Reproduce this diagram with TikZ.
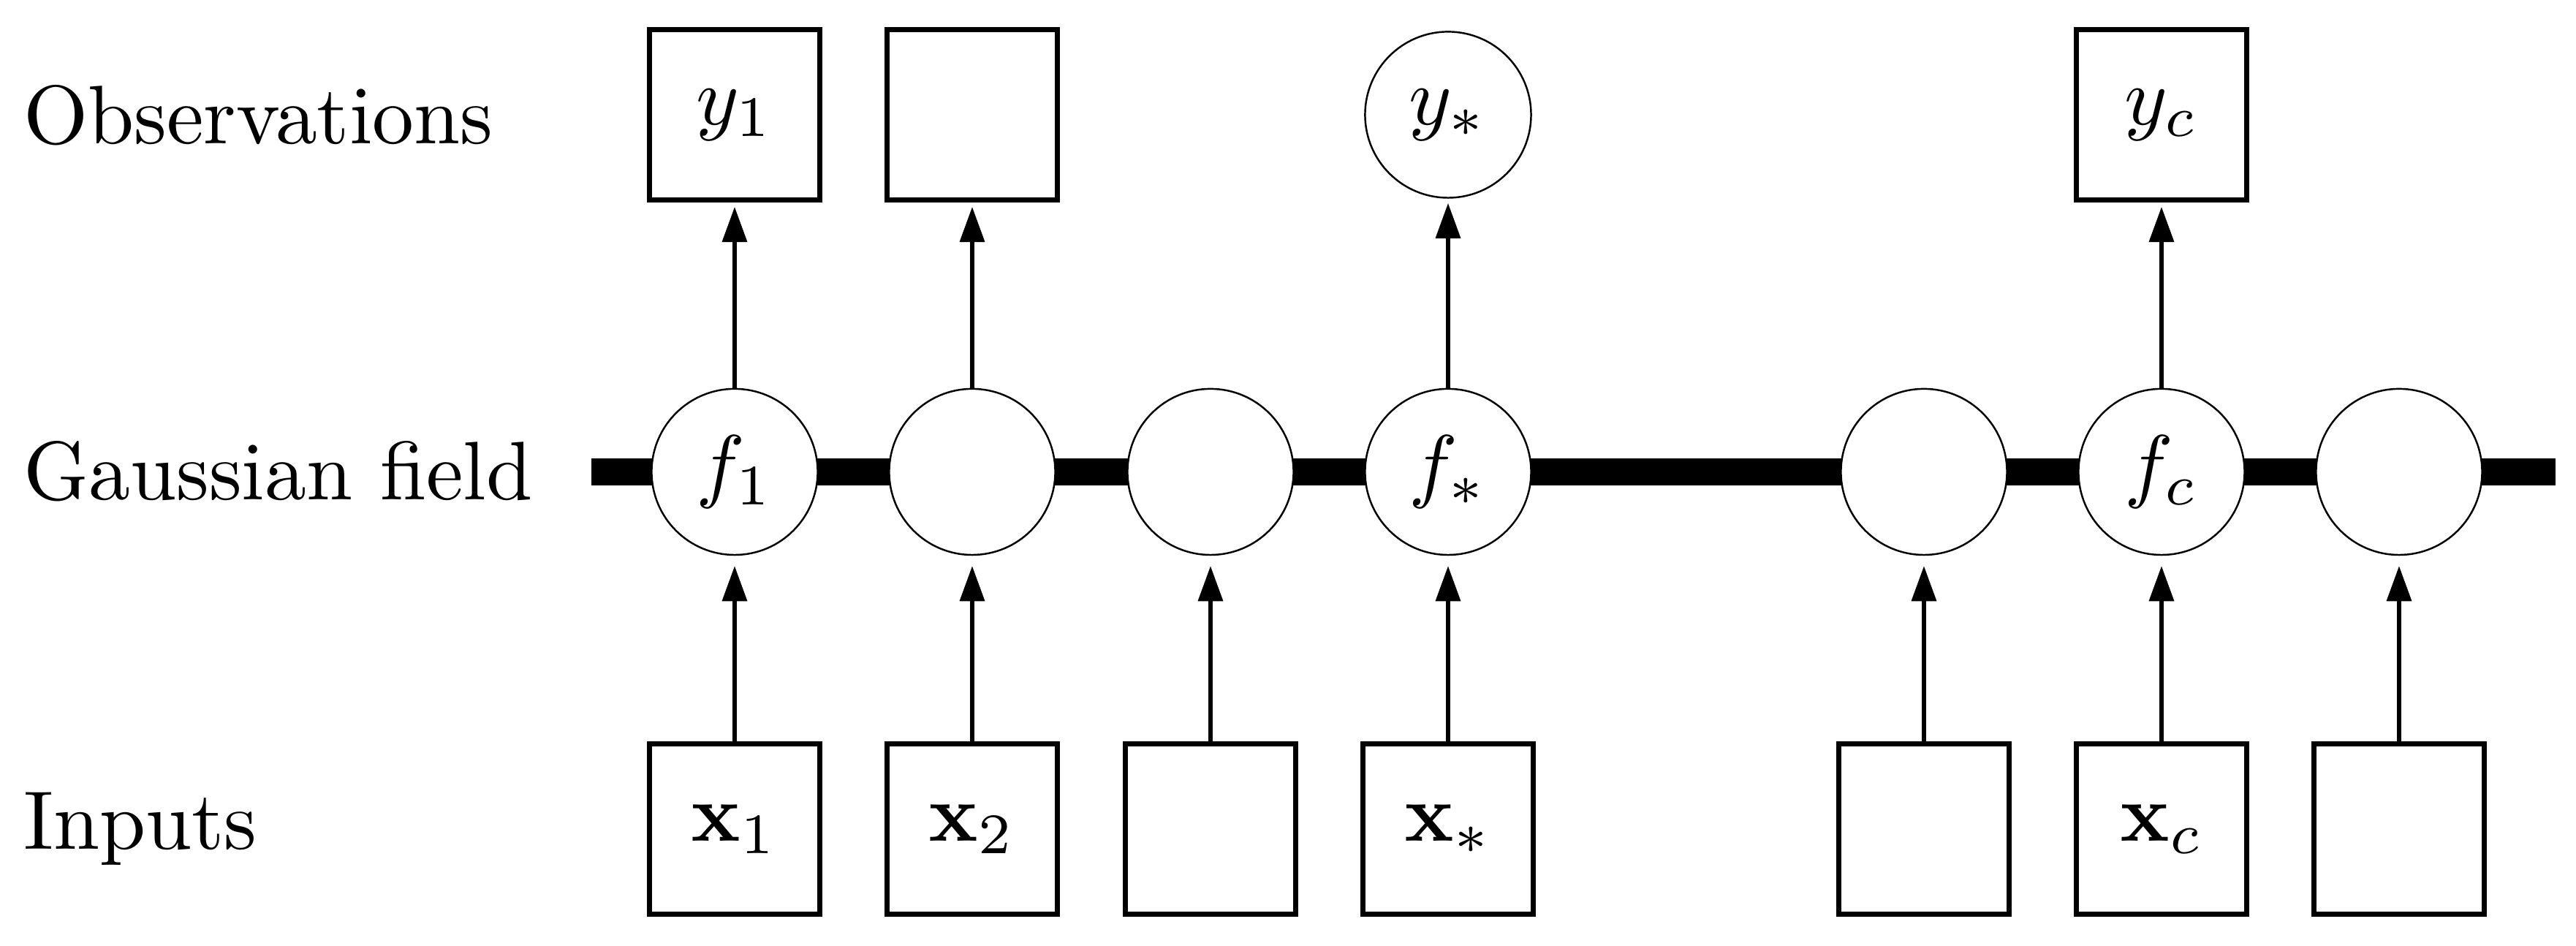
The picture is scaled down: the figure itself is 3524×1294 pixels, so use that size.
\documentclass[tikz,border=0pt]{standalone}
\usetikzlibrary{arrows.meta}
\begin{document}
\begin{tikzpicture}[x=0.08937pt,y=-0.08937pt,
  obsbox/.style={draw, line width=0.63pt, minimum width=20.8pt, minimum height=20.8pt, inner sep=0pt, fill=white},
  fieldnode/.style={draw, circle, line width=0.22pt, minimum size=20.3pt, inner sep=0pt, fill=white},
  upconn/.style={line width=0.45pt, -{Triangle[length=4.3pt,width=3pt]}, shorten >=0.55pt},
  inconn/.style={line width=0.45pt, -{Triangle[length=4.3pt,width=3pt]}, shorten >=1.25pt},
  rowlabel/.style={anchor=base west, inner sep=0pt, font=\fontsize{10.15}{12}\selectfont},
  fieldbar/.style={line width=3.3pt}]
\useasboundingbox (0,0) rectangle (3524,1294);
% row labels
\node[rowlabel] (lobs) at (30,197) {Observations};
\node[rowlabel] (lfield) at (30,684) {Gaussian field};
\node[rowlabel] (linp) at (30,1162) {Inputs};
% field bar
\coordinate (barL) at (809,645.5);
\coordinate (barR) at (3496,645.5);
\draw[fieldbar] (barL) -- (barR);
% field nodes
\node[fieldnode] (f1) at (1005,645.5) {$f_1$};
\node[fieldnode] (f2) at (1330,645.5) {};
\node[fieldnode] (f3) at (1656,645.5) {};
\node[fieldnode] (f4) at (1981,645.5) {$f_*$};
\node[fieldnode] (f5) at (2632,645.5) {};
\node[fieldnode] (f6) at (2957,645.5) {$f_c$};
\node[fieldnode] (f7) at (3282,645.5) {};
% observations
\node[obsbox] (y1) at (1005,157) {$y_1$};
\node[obsbox] (y2) at (1330,157) {};
\node[fieldnode] (y4) at (1981,157) {$y_*$};
\node[obsbox] (y6) at (2957,157) {$y_c$};
% inputs
\node[obsbox] (x1) at (1005,1134) {$\mathbf{x}_1$};
\node[obsbox] (x2) at (1330,1134) {$\mathbf{x}_2$};
\node[obsbox] (x3) at (1656,1134) {};
\node[obsbox] (x4) at (1981,1134) {$\mathbf{x}_*$};
\node[obsbox] (x5) at (2632,1134) {};
\node[obsbox] (x6) at (2957,1134) {$\mathbf{x}_c$};
\node[obsbox] (x7) at (3282,1134) {};
% arrows to observations
\draw[upconn] (f1.north) -- (y1.south);
\draw[upconn] (f2.north) -- (y2.south);
\draw[upconn] (f4.north) -- (y4.south);
\draw[upconn] (f6.north) -- (y6.south);
% arrows from inputs
\draw[inconn] (x1.north) -- (f1.south);
\draw[inconn] (x2.north) -- (f2.south);
\draw[inconn] (x3.north) -- (f3.south);
\draw[inconn] (x4.north) -- (f4.south);
\draw[inconn] (x5.north) -- (f5.south);
\draw[inconn] (x6.north) -- (f6.south);
\draw[inconn] (x7.north) -- (f7.south);
\end{tikzpicture}
\end{document}
